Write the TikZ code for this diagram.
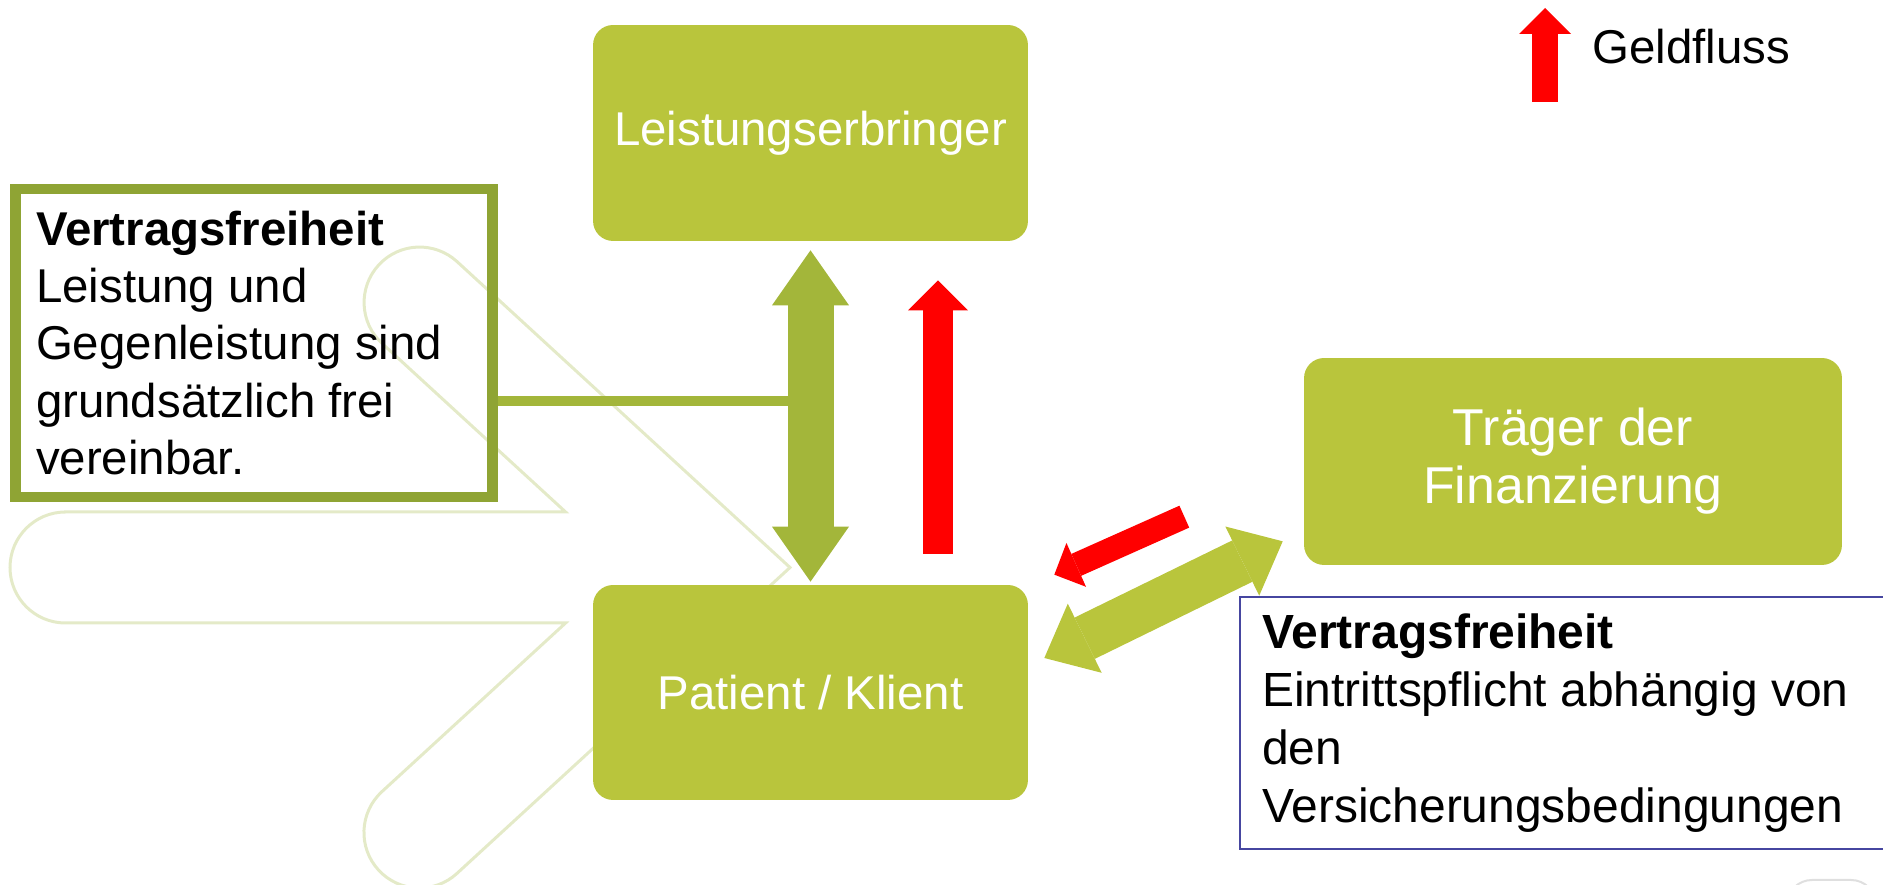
\documentclass[tikz,border=0pt]{standalone}
\usepackage{fontspec}
\setmainfont{Liberation Sans}
\usetikzlibrary{calc}
\usetikzlibrary{arrows.meta}

\definecolor{kastengruen}{RGB}{185,197,60}
\definecolor{pfeilgruen}{RGB}{163,182,58}
\definecolor{rahmengruen}{RGB}{143,164,52}
\definecolor{rahmenblau}{RGB}{70,70,160}
\definecolor{hintergrund}{RGB}{228,234,200}

\begin{document}
\begin{tikzpicture}[x = 0.02cm, y = 0.02cm,
  font = \fontsize{27pt}{32.6pt}\selectfont,
  kasten/.style = {rectangle, rounded corners = 0.4cm, fill = kastengruen, text = white, align = center, inner sep = 0pt},
  vertrag/.style = {rectangle, align = flush left, inner ysep = 0pt},
  gruenpfeil/.style = {line width = 0.92cm, {Triangle[length = #1, width = 1.54cm, line width = 0pt]}-{Triangle[length = #1, width = 1.54cm, line width = 0pt]}},
  geldpfeil/.style = {red, line width = #1, -{Triangle[length = #1, width = 2*#1, line width = 0pt]}}]

  % Bildrahmen
  \useasboundingbox (0,0) rectangle (1883,885);

  % Hintergrundpfeil (nur der Umriss)
  \draw[hintergrund, line width = 0.06cm, line join = miter]
    (65.5,373) -- (565.6,373) -- (382,541.6)
    arc[start angle = 227.4, end angle = 47.4, radius = 55.5]
    -- (790,317.5) -- (457,11.6)
    arc[start angle = 312.6, end angle = 132.6, radius = 55.5]
    -- (565.6,262) -- (65.5,262)
    arc[start angle = 270, end angle = 90, radius = 55.5] -- cycle;
  \draw[gray!25, line width = 0.04cm, rounded corners = 0.5cm] (1787,-80) rectangle (1876,5);

  % Die drei Beteiligten
  \node[kasten, minimum width = 8.7cm, minimum height = 4.32cm] (lei) at (810.5,752) {Leistungserbringer};
  \node[kasten, minimum width = 8.7cm, minimum height = 4.3cm] (pat) at (810.5,192.5) {Patient / Klient};
  \node[kasten, minimum width = 10.76cm, minimum height = 4.14cm, font = \fontsize{29.5pt}{33pt}\selectfont] (tra) at (1573,423.5) {Träger der\\Finanzierung};

  % Textkaesten
  \node[vertrag, draw = rahmengruen, line width = 0.21cm, minimum width = 9.54cm, minimum height = 6.16cm, text width = 8.72cm, inner xsep = 0.41cm] (frei) at (254,542)
    {\textbf{Vertragsfreiheit}\\Leistung und\\Gegenleistung sind\\grundsätzlich frei\\vereinbar.};
  \node[vertrag, draw = rahmenblau, line width = 0.04cm, minimum width = 13.2cm, minimum height = 5.04cm, text width = 12.32cm, inner xsep = 0.44cm, font = \fontsize{27.3pt}{33pt}\selectfont] (versich) at (1570,162)
    {\textbf{Vertragsfreiheit}\\Eintrittspflicht abhängig von\\den\\Versicherungsbedingungen};

  % Legende
  \node[anchor = base west] (geld) at (1586,821.5) {Geldfluss};
  \coordinate (leg1) at (1545,783); % Ende des Legendenpfeils
  \coordinate (leg2) at (1545,877); % Spitze des Legendenpfeils
  \draw[geldpfeil = 0.52cm] (leg1) -- (leg2);

  % Verbindung Textkasten -- Vertragspfeil
  \coordinate (knoten) at (810.5,484);
  \draw[pfeilgruen, line width = 0.2cm] (frei.east |- knoten) -- (knoten);

  % Vertragsbeziehungen
  \draw[pfeilgruen, gruenpfeil = 1.1cm] ($(lei.south)+(0,-9)$) -- ($(pat.north)+(0,3)$);
  \coordinate (d1) at ($(pat.east)+(16,34.5)$); % Spitze links
  \coordinate (d2) at ($(tra.south west)+(-21,24)$); % Spitze rechts
  \draw[kastengruen, gruenpfeil = 0.9cm] (d1) -- (d2);

  % Geldfluesse
  \draw[geldpfeil = 0.6cm] ($(pat.north)+(127.5,31)$) -- ($(lei.south)+(127.5,-39)$);
  \coordinate (g1) at ($(pat.north east)+(156,68)$); % Ende
  \coordinate (g2) at ($(pat.north east)+(26,10)$); % Spitze
  \draw[geldpfeil = 0.48cm] (g1) -- (g2);
\end{tikzpicture}
\end{document}
